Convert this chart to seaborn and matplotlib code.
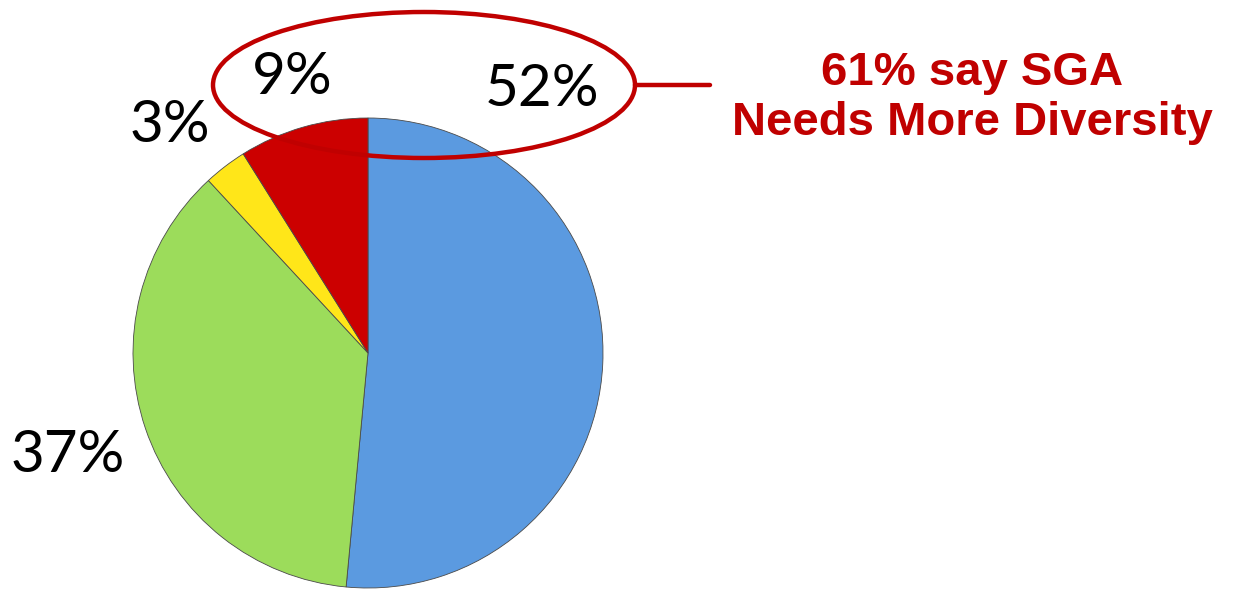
import matplotlib
matplotlib.use("Agg")
import matplotlib.pyplot as plt
from matplotlib.patches import Ellipse
import seaborn as sns

# survey answers, clockwise from 12 o'clock
answers = ["Needs more diversity (a lot)", "Fine as is", "Other", "Needs more diversity (some)"]
shares = [52, 37, 3, 9]
colors = ["#5B9AE0", "#9CDC5B", "#FFE619", "#CC0000"]
label_pos = [(542, 90), (68, 455), (170, 125), (292, 77)]  # pixel positions of % labels

headline = "61% say SGA\nNeeds More Diversity"
dark_red = "#C00000"

sns.set_theme(style="white")
plt.rcParams["font.family"] = ["Lato", "DejaVu Sans"]

W, H = 1233, 589
fig = plt.figure(figsize=(W / 100, H / 100), dpi=100)
ax = fig.add_axes([0, 0, 1, 1])

cx, cy, r = 368, H - 353, 235
ax.pie(shares, colors=colors, startangle=90, counterclock=False,
       center=(cx, cy), radius=r,
       wedgeprops=dict(edgecolor="#4a4a4a", linewidth=0.6))

for s, (x, y) in zip(shares, label_pos):
    ax.text(x, H - y, f"{s}%", fontsize=42, ha="center", va="center", color="black")

# callout around the top labels
ax.add_patch(Ellipse((424, H - 85), 422, 146, fill=False, edgecolor=dark_red, lw=3.2, zorder=5))
ax.plot([635, 710], [H - 85, H - 85], color=dark_red, lw=3.2, zorder=5)
ax.text(972, H - 98, headline, fontsize=34, fontweight="bold", color=dark_red,
        family=["Liberation Sans", "DejaVu Sans"], ha="center", va="center",
        linespacing=1.2)

ax.set_xlim(0, W)
ax.set_ylim(0, H)
ax.set_aspect("equal")
ax.axis("off")

fig.savefig("out.png", dpi=100)
plt.close(fig)
